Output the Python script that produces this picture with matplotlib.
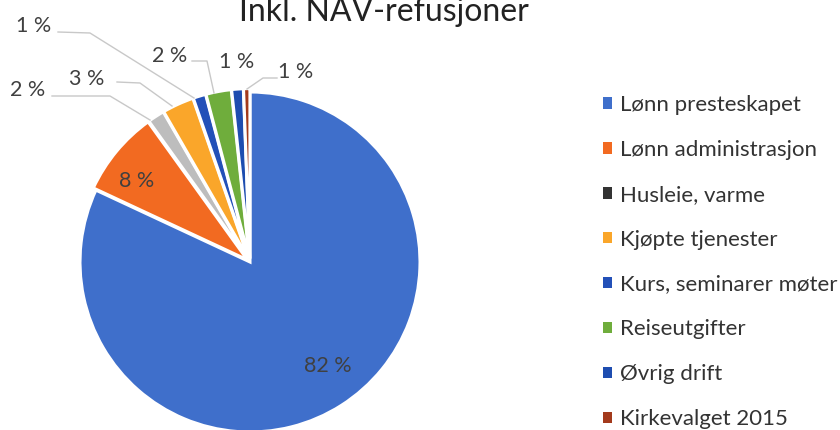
import matplotlib.pyplot as plt
from matplotlib.patches import Patch
import numpy as np

plt.rcParams["font.family"] = ["Lato", "DejaVu Sans"]

categories = [
    "Lønn presteskapet",
    "Lønn administrasjon",
    "Husleie, varme",
    "Kjøpte tjenester",
    "Kurs, seminarer møter",
    "Reiseutgifter",
    "Øvrig drift",
    "Kirkevalget 2015",
]
shares = [81.7, 8.1, 1.6, 3.0, 1.2, 2.4, 1.1, 0.6]
colors = ["#3F6FCB", "#F26A21", "#BDBDBD", "#FAA62A",
          "#2350B8", "#6FAD3C", "#1E4DB0", "#A33A1C"]
legend_colors = colors[:2] + ["#333333"] + colors[3:]
title = "Inkl. NAV-refusjoner"

W, H, DPI = 840, 430, 100
R = 170.0           # pie radius in pixels
CX, CY = 250, 262   # pie centre in pixels (from top-left)


def px(x, y):
    """pixel (from top-left) -> data coords"""
    return (x - CX) / R, (CY - y) / R


fig = plt.figure(figsize=(W / DPI, H / DPI), dpi=DPI)
ax = fig.add_axes([0, 0, 1, 1])

explode = [0.0, 0.02, 0.02, 0.02, 0.02, 0.02, 0.02, 0.02]
wedges, _ = ax.pie(shares, colors=colors, startangle=90, counterclock=False,
                   explode=explode, radius=1.0,
                   wedgeprops=dict(edgecolor="white", linewidth=2.2))
# pie() resets the limits, so set them afterwards
ax.set_xlim(-CX / R, (W - CX) / R)
ax.set_ylim(-(H - CY) / R, CY / R)
ax.set_aspect("equal")
ax.axis("off")

total = sum(shares)
pct_labels = [f"{round(v / total * 100)} %" for v in shares]

# inside labels
for i, dist, dang in [(0, 0.765, 4.3), (1, 0.82, 3.9)]:
    w = wedges[i]
    ang = np.deg2rad((w.theta1 + w.theta2) / 2 + dang)
    ax.text(dist * np.cos(ang), dist * np.sin(ang), pct_labels[i],
            ha="center", va="center", fontsize=15.5, color="#404040")

# outside labels with leader lines (pixel layout)
outside = {
    2: ((28, 90), [(52, 96), (110, 96), (150, 120)]),
    3: ((87, 79), [(117, 82), (140, 83), (172, 106)]),
    4: ((34, 26), [(58, 32), (90, 33), (194, 98)]),
    5: ((170, 56), [(192, 61), (207, 61), (214, 93)]),
    6: ((237, 62), None),
    7: ((296, 72), [(277, 78), (263, 78), (247, 89)]),
}
for i, (pos, line) in outside.items():
    tx, ty = px(*pos)
    ax.text(tx, ty, pct_labels[i], ha="center", va="center",
            fontsize=15.5, color="#404040")
    if line:
        pts = np.array([px(*p) for p in line])
        ax.plot(pts[:, 0], pts[:, 1], color="#C8C8C8", linewidth=1.0)

fig.text(384 / W, 1 - 12 / H, title, ha="center", va="center",
         fontsize=23, color="#222222")

handles = [Patch(facecolor=c, edgecolor="none") for c in legend_colors]
fig.legend(handles, categories, loc="upper left",
           bbox_to_anchor=(583 / W, 1 - 75 / H), frameon=False,
           fontsize=16, handlelength=0.42, handleheight=0.42,
           handletextpad=0.36, labelspacing=1.12, labelcolor="#333333")

fig.savefig("out.png", dpi=DPI)
